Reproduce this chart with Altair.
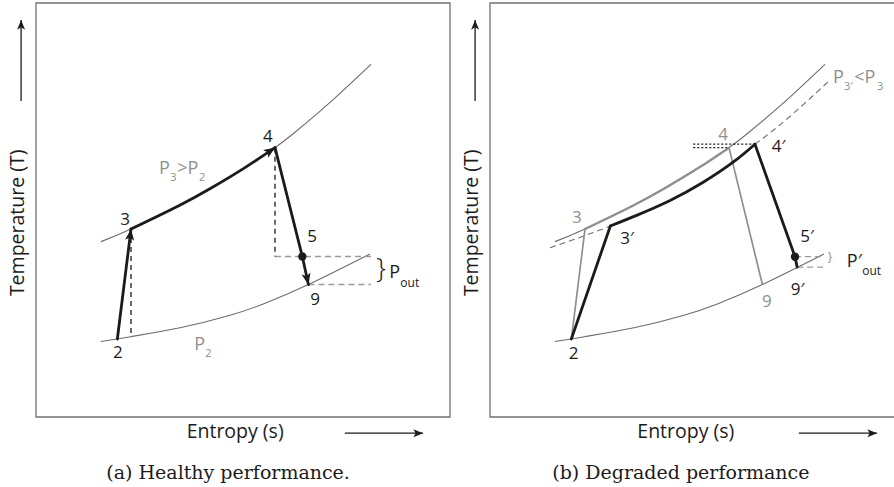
import math

import altair as alt
import numpy as np
import pandas as pd

# ------------------------------------------------------------------
# T-s diagram data. Entropy s and temperature T are given in frame
# units: each panel's box spans 0..100 on both axes.
# ------------------------------------------------------------------

# isobar P3 (compressor exit / combustor), shared by both panels
hi_s = [15.70, 22.95, 34.38, 42.43, 50.48, 57.73, 62.56, 70.61, 80.92]
hi_T = [42.36, 45.41, 50.97, 55.37, 60.24, 65.06, 68.78, 75.62, 85.21]

# ambient isobar P2
lo_s = [15.62, 19.65, 22.87, 34.78, 46.86, 54.91, 65.80, 80.68]
lo_T = [18.22, 18.84, 19.40, 21.54, 24.56, 27.30, 32.00, 39.37]

# healthy state points 2, 3, 4, 5, 9
pt_names = ["2", "3", "4", "5", "9"]
pt_s = [19.65, 22.95, 57.73, 64.33, 65.80]
pt_T = [18.84, 45.41, 65.06, 38.77, 32.00]

# degraded state points 3', 4', 5', 9'
dg_names = ["3′", "4′", "5′", "9′"]
dg_s = [29.07, 64.00, 73.67, 74.20]
dg_T = [46.14, 65.90, 38.72, 36.20]

# degraded heat addition 3' -> 4'
heat_s = [29.07, 35.40, 43.50, 51.50, 58.80, 64.00]
heat_T = [46.14, 48.70, 52.30, 56.70, 61.60, 65.90]

# lowered isobar P3' (dashed), either side of the heat-addition curve
p3d_left_s = [14.50, 21.80, 29.07]
p3d_left_T = [40.90, 43.40, 46.14]
p3d_right_s = [64.00, 69.60, 75.60, 81.70]
p3d_right_T = [65.90, 70.20, 75.40, 81.00]

# right end of the output-pressure guide lines
guide_end_a = 80.90
guide_end_b = 80.50
# left end of the dotted turbine-inlet temperature lines (panel b)
tit_start = 49.10

# axis arrows (outside the frame)
y_arrow_s = -3.6
y_arrow_T = [76.3, 95.9]
x_arrow_T = -3.9
x_arrow_s = [74.6, 93.5]

# ------------------------------------------------------------------
# scales: frame 0..100 maps onto the panel box
# ------------------------------------------------------------------
PANEL_B_SHIFT = (490 - 36) / 4.14
SHIFT = f"datum.s + (datum.panel === 'b' ? {PANEL_B_SHIFT} : 0)"

x_scale = alt.Scale(domain=[0, 100], range=[36, 450], zero=False, nice=False)
y_scale = alt.Scale(domain=[0, 100], range=[417, 3], zero=False, nice=False)
X = alt.X("x:Q", scale=x_scale, axis=None)
Y = alt.Y("T:Q", scale=y_scale, axis=None)

INK = "#1b1b1b"
CURVE = "#6c6c6c"
GREY = "#8f8f8f"
FRAME = "#707070"
SANS = "Open Sans"
SERIF = "DejaVu Serif"

ARROW = "M0,0 L0.55,1.35 L0,1.02 L-0.55,1.35 Z"


def line_table(parts):
    frames = []
    for panel, name, s, T in parts:
        frames.append(pd.DataFrame({
            "panel": panel,
            "seg": f"{panel}:{name}",
            "i": np.arange(len(s)),
            "s": list(s),
            "T": list(T),
        }))
    return pd.concat(frames, ignore_index=True)


def lines(parts, interp="linear", **style):
    return (
        alt.Chart(line_table(parts))
        .transform_calculate(x=SHIFT)
        .mark_line(interpolate=interp, **style)
        .encode(x=X, y=Y, detail="seg:N", order="i:Q")
    )


def texts(rows, **style):
    df = pd.DataFrame(rows, columns=["panel", "text", "s", "T"])
    return (
        alt.Chart(df)
        .transform_calculate(x=SHIFT)
        .mark_text(**style)
        .encode(x=X, y=Y, text="text:N")
    )


def heading(s0, T0, s1, T1):
    return math.degrees(math.atan2(s1 - s0, T1 - T0)) % 360


def heads(rows, size, color):
    df = pd.DataFrame(rows, columns=["panel", "s", "T", "angle"])
    return (
        alt.Chart(df)
        .transform_calculate(x=SHIFT)
        .mark_point(shape=ARROW, filled=True, size=size, color=color,
                    opacity=1, strokeWidth=0)
        .encode(x=X, y=Y, angle=alt.Angle("angle:Q", scale=None))
    )


p2, p3, p4, p5, p9 = list(zip(pt_s, pt_T))
q3, q4, q5, q9 = list(zip(dg_s, dg_T))
i3, i4 = hi_s.index(p3[0]), hi_s.index(p4[0])
lo_under_3 = lo_T[lo_s.index(22.87)]

# frames
frames = pd.DataFrame({"panel": ["a", "b"], "s": [0, 0], "s2": [100, 100],
                       "T": [0, 0], "T2": [100, 100]})
frame_layer = (
    alt.Chart(frames)
    .transform_calculate(x=SHIFT, x2=f"datum.s2 + (datum.panel === 'b' ? {PANEL_B_SHIFT} : 0)")
    .mark_rect(fillOpacity=0, stroke=FRAME, strokeWidth=1.3)
    .encode(x=X, x2="x2:Q", y=Y, y2="T2:Q")
)

# isobars
isobars = lines(
    [(p, "hi", hi_s, hi_T) for p in "ab"] + [(p, "lo", lo_s, lo_T) for p in "ab"],
    interp="natural", color=CURVE, strokeWidth=1.1,
)
p3_dashed = lines(
    [("b", "left", p3d_left_s, p3d_left_T), ("b", "right", p3d_right_s, p3d_right_T)],
    interp="natural", color=CURVE, strokeWidth=1.1, strokeDash=[6, 4],
)

# guide lines
grey_guides = lines([
    ("a", "p5", [p4[0], guide_end_a], [p5[1], p5[1]]),
    ("a", "p9", [p9[0], guide_end_a], [p9[1], p9[1]]),
    ("b", "p5", [q5[0], guide_end_b], [q5[1], q5[1]]),
    ("b", "p9", [q9[0], guide_end_b], [q9[1], q9[1]]),
], color="#9a9a9a", strokeWidth=1.3, strokeDash=[6, 4])
dark_guides = lines([
    ("a", "v3", [p3[0], p3[0]], [p3[1], lo_under_3]),
    ("a", "v4", [p4[0], p4[0]], [p4[1], p5[1]]),
], color="#2a2a2a", strokeWidth=1.4, strokeDash=[5, 4])
tit_lines = lines([
    ("b", "t4p", [tit_start, q4[0]], [q4[1], q4[1]]),
    ("b", "t4", [tit_start, p4[0]], [p4[1], p4[1]]),
], color=INK, strokeWidth=1.1, strokeDash=[2, 2])

# healthy cycle, shown grey in panel b
grey_path = lines([
    ("b", "c23", [p2[0], p3[0]], [p2[1], p3[1]]),
    ("b", "c49", [p4[0], p9[0]], [p4[1], p9[1]]),
], color=GREY, strokeWidth=1.7)
grey_heat = lines([("b", "h34", hi_s[i3:i4 + 1], hi_T[i3:i4 + 1])],
                  interp="natural", color=GREY, strokeWidth=2.4, strokeCap="round")

# black cycle paths
black_straight = lines([
    ("a", "c23", [p2[0], p3[0]], [p2[1], p3[1]]),
    ("a", "c49", [p4[0], p5[0], p9[0]], [p4[1], p5[1], p9[1]]),
    ("b", "c23", [p2[0], q3[0]], [p2[1], q3[1]]),
    ("b", "c49", [q4[0], q5[0], q9[0]], [q4[1], q5[1], q9[1]]),
], color=INK, strokeWidth=2.8, strokeCap="round", strokeJoin="round")
black_heat = lines([
    ("a", "h34", hi_s[i3:i4 + 1], hi_T[i3:i4 + 1]),
    ("b", "h34", heat_s, heat_T),
], interp="natural", color=INK, strokeWidth=2.8, strokeCap="round")

# arrowheads on the healthy cycle
cycle_heads = heads([
    ("a", p3[0], p3[1], heading(*p2, *p3)),
    ("a", p4[0], p4[1], heading(hi_s[i4 - 1], hi_T[i4 - 1], *p4)),
    ("a", p9[0], p9[1], heading(*p5, *p9)),
], size=280, color=INK)

# state 5 markers
dots = (
    alt.Chart(pd.DataFrame({"panel": ["a", "b"], "s": [p5[0], q5[0]], "T": [p5[1], q5[1]]}))
    .transform_calculate(x=SHIFT)
    .mark_point(shape="circle", filled=True, size=70, color=INK, opacity=1)
    .encode(x=X, y=Y)
)

# axis arrows
axis_lines = lines(
    [(p, "up", [y_arrow_s, y_arrow_s], y_arrow_T) for p in "ab"]
    + [(p, "right", x_arrow_s, [x_arrow_T, x_arrow_T]) for p in "ab"],
    color=INK, strokeWidth=1.3,
)
axis_heads = heads(
    [(p, y_arrow_s, y_arrow_T[1], heading(y_arrow_s, y_arrow_T[0], y_arrow_s, y_arrow_T[1])) for p in "ab"]
    + [(p, x_arrow_s[1], x_arrow_T, heading(x_arrow_s[0], x_arrow_T, x_arrow_s[1], x_arrow_T)) for p in "ab"],
    size=210, color=INK,
)

# ------------------------------------------------------------------
# text
# ------------------------------------------------------------------
dark_numbers = texts([
    ("a", "2", 19.8, 15.5), ("a", "3", 21.5, 47.6), ("a", "4", 56.0, 67.6),
    ("a", "5", 66.7, 43.5), ("a", "9", 67.4, 28.3),
    ("b", "2", 20.2, 15.1), ("b", "3′", 33.1, 42.9), ("b", "4′", 69.7, 65.3),
    ("b", "5′", 76.6, 43.4), ("b", "9′", 74.3, 30.7),
], font=SANS, fontSize=17, color=INK, align="center", baseline="middle")
grey_numbers = texts([
    ("b", "3", 21.0, 48.0), ("b", "4", 56.3, 68.1), ("b", "9", 66.9, 27.7),
], font=SANS, fontSize=17, color=GREY, align="center", baseline="middle")

grey_main = texts([
    ("a", "P", 29.7, 58.7), ("a", ">P", 34.1, 58.7),
    ("a", "P", 38.2, 16.2),
    ("b", "P", 82.85, 80.7), ("b", "<P", 88.0, 80.7),
], font=SANS, fontSize=18, color=GREY, align="left", baseline="alphabetic")
grey_subs = texts([
    ("a", "3", 32.4, 57.0), ("a", "2", 39.4, 57.0),
    ("a", "2", 40.9, 14.5),
    ("b", "3′", 85.5, 79.0), ("b", "3", 93.5, 79.0),
], font=SANS, fontSize=11, color=GREY, align="left", baseline="alphabetic")

pout_main = texts([("a", "P", 85.3, 33.6), ("b", "P′", 86.2, 36.2)],
                  font=SANS, fontSize=18, color=INK, align="left", baseline="alphabetic")
pout_subs = texts([("a", "out", 88.0, 31.4), ("b", "out", 89.9, 34.3)],
                  font=SANS, fontSize=12, color=INK, align="left", baseline="alphabetic")
brace_a = texts([("a", "}", 83.3, 35.4)], font=SANS, fontSize=28, fontWeight=300,
                color=INK, align="center", baseline="middle")
brace_b = texts([("b", "}", 82.1, 38.6)], font=SANS, fontSize=12,
                color=GREY, align="center", baseline="middle")

x_titles = texts([("a", "Entropy (s)", 48.1, -3.6), ("b", "Entropy (s)", 47.3, -3.6)],
                 font=SANS, fontSize=19.5, color=INK, align="center", baseline="middle")
y_titles = texts([("a", "Temperature (T)", -4.4, 46.9), ("b", "Temperature (T)", -4.4, 46.9)],
                 font=SANS, fontSize=19.5, color=INK, align="center", baseline="middle", angle=270)
captions = texts([("a", "(a) Healthy performance.", 46.4, -13.5),
                  ("b", "(b) Degraded performance", 46.1, -13.5)],
                 font=SERIF, fontSize=19, color=INK, align="center", baseline="middle")

chart = alt.layer(
    frame_layer, isobars, p3_dashed, grey_guides, dark_guides, tit_lines,
    grey_heat, grey_path, black_heat, black_straight, cycle_heads, dots,
    axis_lines, axis_heads,
    dark_numbers, grey_numbers, grey_main, grey_subs, pout_main, pout_subs,
    brace_a, brace_b, x_titles, y_titles, captions,
).properties(
    width=894, height=487,
    autosize=alt.AutoSizeParams(type="none"),
    padding=0,
).configure_view(stroke=None)

chart.save("out.html", embed_options={"renderer": "svg", "actions": False})
